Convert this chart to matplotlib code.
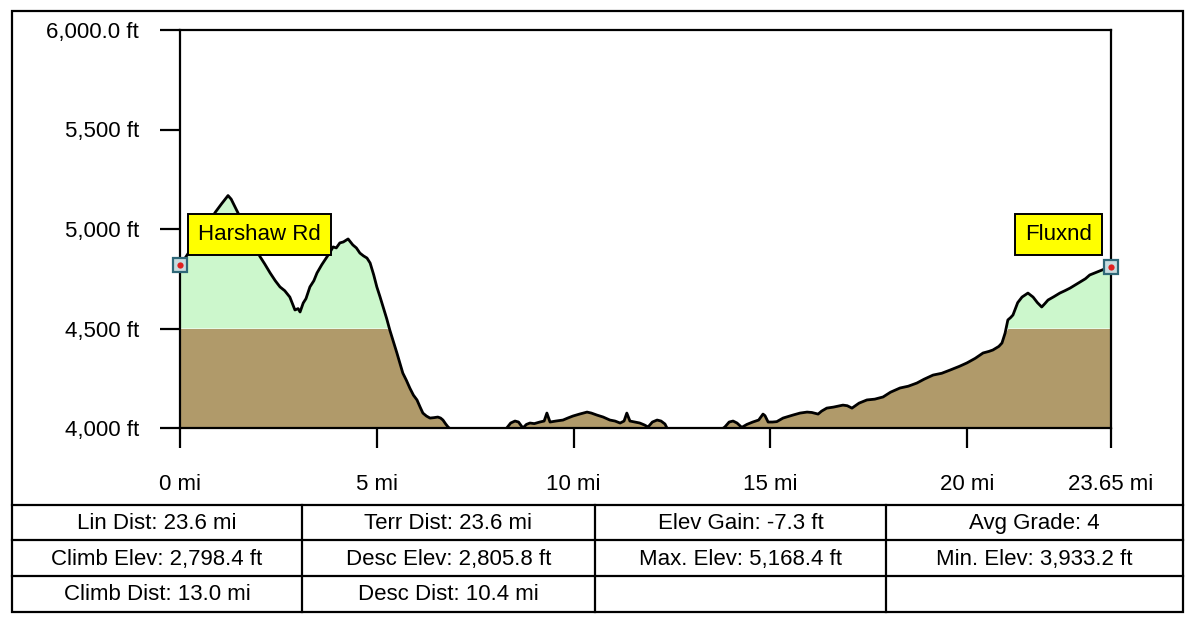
import numpy as np
import matplotlib
matplotlib.use("Agg")
import matplotlib.pyplot as plt
from matplotlib.patches import Rectangle

plt.rcParams['font.family'] = ['Liberation Sans', 'DejaVu Sans']

# Профиль маршрута: расстояние (мили) и высота (футы)
dist_mi = [0.00, 0.15, 0.30, 0.45, 0.60, 0.75, 0.90, 1.05, 1.15, 1.22, 1.30, 1.40,
           1.55, 1.70, 1.85, 2.03, 2.15, 2.29, 2.42, 2.54, 2.66, 2.79, 2.92, 3.00,
           3.05, 3.13, 3.20, 3.30, 3.40, 3.48, 3.60, 3.73, 3.80, 3.89, 3.97, 4.06,
           4.15, 4.27, 4.33, 4.39, 4.48, 4.57, 4.66, 4.75, 4.83, 4.92, 5.00, 5.08,
           5.16, 5.25, 5.33, 5.42, 5.51, 5.58, 5.66, 5.75, 5.84, 5.93, 6.02, 6.10,
           6.17, 6.26, 6.35, 6.45, 6.55, 6.62, 6.68, 6.75, 6.81, 6.90, 7.00, 7.30,
           7.60, 7.90, 8.20, 8.30, 8.40, 8.51, 8.60, 8.71, 8.80, 8.89, 9.00, 9.14,
           9.25, 9.32, 9.40, 9.55, 9.73, 9.85, 9.98, 10.15, 10.34, 10.45, 10.59, 10.75,
           10.92, 11.05, 11.18, 11.28, 11.35, 11.43, 11.55, 11.68, 11.80, 11.89, 12.00, 12.12,
           12.22, 12.32, 12.37, 12.50, 12.90, 13.30, 13.70, 13.84, 13.95, 14.05, 14.15, 14.27,
           14.40, 14.55, 14.70, 14.81, 14.86, 14.94, 15.05, 15.16, 15.32, 15.45, 15.57, 15.75,
           15.93, 16.05, 16.21, 16.30, 16.43, 16.60, 16.84, 16.95, 17.07, 17.25, 17.45, 17.65,
           17.86, 18.05, 18.29, 18.50, 18.72, 18.90, 19.13, 19.35, 19.56, 19.80, 19.99, 20.20,
           20.40, 20.55, 20.65, 20.80, 20.88, 20.96, 21.03, 21.10, 21.16, 21.28, 21.39, 21.54,
           21.67, 21.78, 21.89, 21.97, 22.05, 22.20, 22.35, 22.48, 22.61, 22.75, 22.86, 23.00,
           23.11, 23.25, 23.37, 23.50, 23.65]
elev_ft = [4817, 4860, 4905, 4950, 4995, 5040, 5085, 5125, 5150, 5168, 5150, 5110,
           5050, 4990, 4930, 4862, 4825, 4779, 4740, 4709, 4690, 4658, 4593, 4600,
           4583, 4628, 4650, 4709, 4740, 4779, 4820, 4859, 4880, 4910, 4905, 4930,
           4935, 4950, 4935, 4920, 4905, 4879, 4865, 4854, 4829, 4770, 4709, 4660,
           4608, 4550, 4492, 4435, 4377, 4330, 4276, 4240, 4200, 4165, 4141, 4105,
           4075, 4060, 4050, 4052, 4055, 4050, 4040, 4020, 4005, 3990, 3975, 3950,
           3940, 3945, 3980, 4000, 4025, 4035, 4030, 4000, 4018, 4025, 4022, 4030,
           4035, 4075, 4030, 4035, 4040, 4050, 4060, 4070, 4080, 4075, 4065, 4055,
           4040, 4035, 4025, 4035, 4075, 4035, 4030, 4025, 4015, 4005, 4030, 4040,
           4035, 4020, 4000, 3980, 3955, 3950, 3985, 4005, 4030, 4035, 4025, 4003,
           4018, 4030, 4040, 4070, 4062, 4030, 4030, 4032, 4050, 4058, 4065, 4075,
           4080, 4078, 4070, 4085, 4100, 4105, 4115, 4112, 4100, 4125, 4141, 4145,
           4156, 4180, 4201, 4210, 4226, 4245, 4266, 4275, 4291, 4310, 4327, 4350,
           4377, 4385, 4392, 4410, 4427, 4477, 4543, 4555, 4568, 4630, 4658, 4678,
           4658, 4630, 4608, 4625, 4643, 4660, 4678, 4690, 4703, 4720, 4734, 4750,
           4769, 4780, 4789, 4800, 4810]

x_ticks = [0, 5, 10, 15, 20, 23.65]
x_labels = ['0 mi', '5 mi', '10 mi', '15 mi', '20 mi', '23.65 mi']
y_ticks = [4000, 4500, 5000, 5500, 6000]
y_labels = ['4,000 ft', '4,500 ft', '5,000 ft', '5,500 ft', '6,000.0 ft']

waypoints = ['Harshaw Rd', 'Fluxnd']

stats = [['Lin Dist: 23.6 mi', 'Terr Dist: 23.6 mi', 'Elev Gain: -7.3 ft', 'Avg Grade: 4'],
         ['Climb Elev: 2,798.4 ft', 'Desc Elev: 2,805.8 ft', 'Max. Elev: 5,168.4 ft', 'Min. Elev: 3,933.2 ft'],
         ['Climb Dist: 13.0 mi', 'Desc Dist: 10.4 mi', '', '']]

x = np.array(dist_mi)
y = np.array(elev_ft, dtype=float)

W, H = 1200, 628
FS = 16
fig = plt.figure(figsize=(12, 6.28), dpi=100)

# фон: рамка и таблица в пиксельных координатах
bg = fig.add_axes([0, 0, 1, 1], zorder=0)
bg.set_xlim(0, W)
bg.set_ylim(H, 0)
bg.axis('off')
bg.add_patch(Rectangle((12, 11), 1171, 601, fill=False, lw=1.6, ec='black'))
col_x = [12, 302, 595, 886, 1183]
row_y = [505, 540, 576, 612]
for yy in row_y[:-1]:
    bg.plot([12, 1183], [yy, yy], color='black', lw=1.6)
for xx in col_x[1:-1]:
    bg.plot([xx, xx], [row_y[0], row_y[-1]], color='black', lw=1.6)
for r, row in enumerate(stats):
    for c, txt in enumerate(row):
        bg.text((col_x[c] + col_x[c + 1]) / 2, (row_y[r] + row_y[r + 1]) / 2 + 1, txt,
                ha='center', va='center', fontsize=FS)

# график профиля
ax = fig.add_axes([180 / W, (H - 428) / H, (1111 - 180) / W, (428 - 30) / H], zorder=1)
ax.set_xlim(0, 23.65)
ax.set_ylim(4000, 6000)

base = 4500
ax.fill_between(x, 4000, np.minimum(y, base), color='#b09a6a', lw=0)
ax.fill_between(x, base, y, where=y > base, interpolate=True, color='#ccf7cc', lw=0)
ax.plot(x, y, color='black', lw=2)

for s in ax.spines.values():
    s.set_linewidth(1.6)
ax.set_xticks(x_ticks)
ax.set_xticklabels(x_labels)
ax.set_yticks(y_ticks)
ax.set_yticklabels(y_labels)
ax.tick_params(axis='both', direction='out', length=14.5, width=1.6, labelsize=FS)
ax.tick_params(axis='x', pad=18.5)
ax.tick_params(axis='y', pad=15)

# подписи точек маршрута
ax.text(0.46, 4972, waypoints[0], ha='left', va='center', fontsize=FS,
        bbox=dict(boxstyle='square,pad=0.45', fc='#ffff00', ec='black', lw=1.4), zorder=5)
ax.text(23.16, 4972, waypoints[1], ha='right', va='center', fontsize=FS,
        bbox=dict(boxstyle='square,pad=0.45', fc='#ffff00', ec='black', lw=1.4), zorder=5)

for px, py in [(x[0], y[0]), (x[-1], y[-1])]:
    ax.plot(px, py, marker='s', ms=10, mfc='#c8dce0', mec='#2f6878', mew=1.6,
            clip_on=False, zorder=6)
    ax.plot(px, py, marker='o', ms=4.5, mfc='#e02020', mec='none', clip_on=False, zorder=7)

fig.savefig('out.png', dpi=100)
